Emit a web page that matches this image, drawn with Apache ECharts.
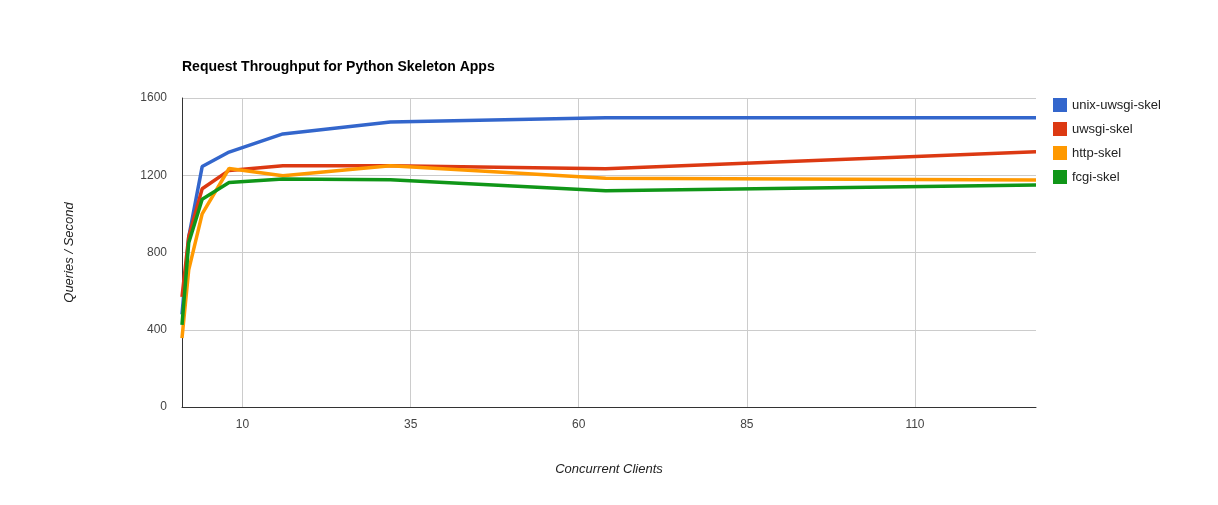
<!DOCTYPE html>
<html>
<head>
<meta charset="utf-8">
<script src="https://cdn.jsdelivr.net/npm/echarts@6/dist/echarts.min.js"></script>
<style>
  html, body { margin: 0; padding: 0; background: #fff; }
  #main { width: 1218px; height: 505px; }
</style>
</head>
<body>
<div id="main"></div>
<script>
// concurrent clients (x values)
var clients = [1, 2, 4, 8, 16, 32, 64, 128];
// queries per second, per server setup
var unixUwsgi = [480, 880, 1245, 1320, 1414, 1476, 1498, 1498];
var uwsgi     = [570, 882, 1130, 1225, 1249, 1249, 1234, 1322];
var http      = [357, 710, 1000, 1235, 1197, 1249, 1185, 1175];
var fcgi      = [425, 850, 1076, 1162, 1181, 1177, 1120, 1150];
var seriesNames = ['unix-uwsgi-skel', 'uwsgi-skel', 'http-skel', 'fcgi-skel'];
var colors = ['#3366cc', '#dc3912', '#ff9900', '#109618'];
// tick labels
var xTicks = [10, 35, 60, 85, 110];
var yTicks = [0, 400, 800, 1200, 1600];

function pairs(ys) {
	return clients.map(function (x, i) { return [x, ys[i]]; });
}

var font = 'Arial, "Liberation Sans", sans-serif';

var chart = echarts.init(document.getElementById('main'));
var option = {
	backgroundColor: '#ffffff',
	animation: false,
	color: colors,
	title: {
		text: 'Request Throughput for Python Skeleton Apps',
		left: 182,
		top: 60,
		padding: 0,
		textStyle: { fontFamily: font, fontSize: 14, fontWeight: 'bold', color: '#000' }
	},
	legend: {
		orient: 'vertical',
		left: 1053,
		top: 98,
		padding: 0,
		icon: 'rect',
		itemWidth: 14,
		itemHeight: 14,
		itemGap: 10,
		data: seriesNames,
		textStyle: { fontFamily: font, fontSize: 13, color: '#222' }
	},
	grid: { left: 182, right: 182, top: 98, bottom: 98, containLabel: false },
	xAxis: {
		type: 'value',
		min: 1,
		max: 128,
		name: 'Concurrent Clients',
		nameLocation: 'middle',
		nameGap: 56,
		nameTextStyle: { fontFamily: font, fontSize: 13, fontStyle: 'italic', color: '#222' },
		axisLine: { show: true, lineStyle: { color: '#333', width: 1 } },
		axisTick: { show: false, customValues: xTicks },
		axisLabel: { customValues: xTicks, margin: 12, fontFamily: font, fontSize: 12, color: '#444' },
		splitLine: { show: true, lineStyle: { color: '#cccccc', width: 1 } }
	},
	yAxis: {
		type: 'value',
		min: 0,
		max: 1600,
		interval: 400,
		name: 'Queries / Second',
		nameLocation: 'middle',
		nameGap: 106,
		nameTextStyle: { fontFamily: font, fontSize: 13, fontStyle: 'italic', color: '#222' },
		axisLine: { show: true, lineStyle: { color: '#333', width: 1 } },
		axisTick: { show: false, customValues: yTicks },
		axisLabel: {
			customValues: yTicks,
			margin: 15,
			fontFamily: font,
			fontSize: 12,
			color: '#444',
			formatter: function (v) { return String(v); }
		},
		splitLine: { show: true, lineStyle: { color: '#cccccc', width: 1 } }
	},
	series: [unixUwsgi, uwsgi, http, fcgi].map(function (ys, i) {
		return {
			name: seriesNames[i],
			type: 'line',
			data: pairs(ys),
			showSymbol: false,
			symbol: 'none',
			lineStyle: { width: 3.5, color: colors[i] },
			z: 2 + i
		};
	})
};
chart.setOption(option);
</script>
</body>
</html>
